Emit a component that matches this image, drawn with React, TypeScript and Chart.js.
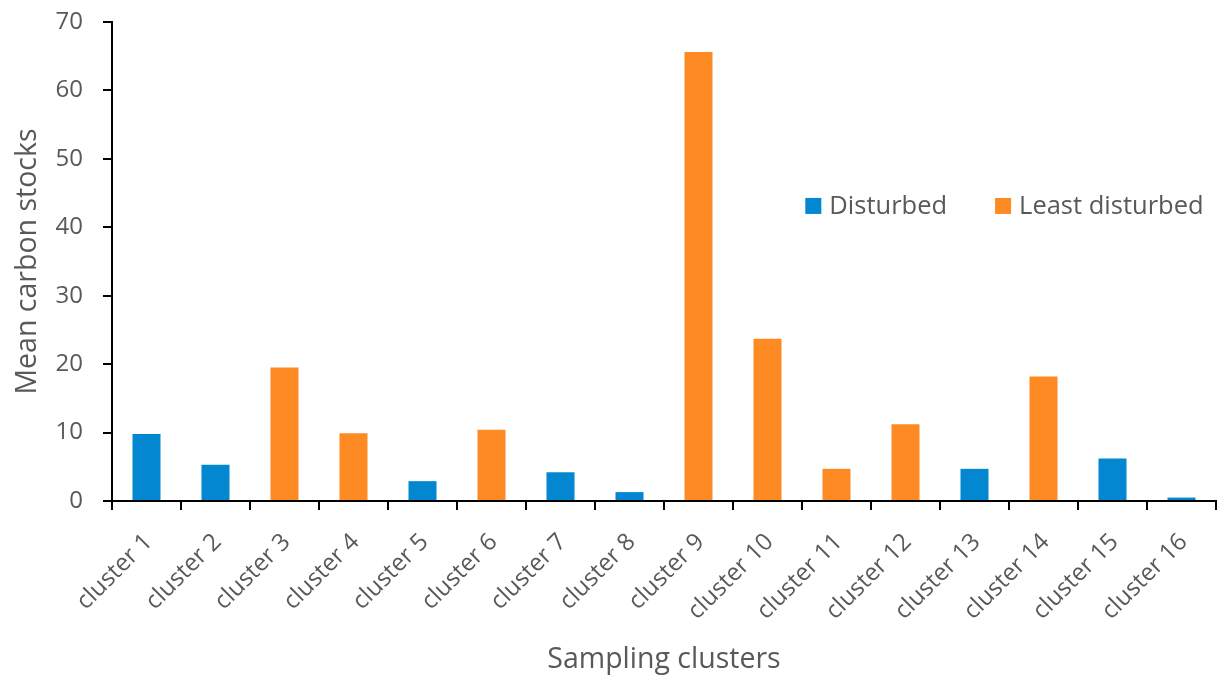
import React, { useEffect, useRef } from "react";
import { Chart, registerables } from "chart.js";

Chart.register(...registerables);

const categories = [
  "cluster 1", "cluster 2", "cluster 3", "cluster 4", "cluster 5", "cluster 6",
  "cluster 7", "cluster 8", "cluster 9", "cluster 10", "cluster 11", "cluster 12",
  "cluster 13", "cluster 14", "cluster 15", "cluster 16",
];
const disturbed = [9.8, 5.3, null, null, 2.9, null, 4.2, 1.3, null, null, null, null, 4.7, null, 6.2, 0.5];
const leastDisturbed = [null, null, 19.5, 9.9, null, 10.4, null, null, 65.6, 23.7, 4.7, 11.2, null, 18.2, null, null];
const seriesNames = ["Disturbed", "Least disturbed"];
const seriesColors = ["#0287D0", "#FE8A24"];
const yTitle = "Mean carbon stocks";
const xTitle = "Sampling clusters";
const yMin = 0;
const yMax = 70;
const yStep = 10;

const FONT = "'Open Sans', sans-serif";
const TEXT = "#595959";

const insideLegend = {
  id: "insideLegend",
  afterDraw(chart: any) {
    const ctx = chart.ctx;
    const area = chart.chartArea;
    const x0 = area.left + (area.right - area.left) * 0.628;
    const yc = area.top + (area.bottom - area.top) * 0.384;
    const box = 16;
    ctx.save();
    ctx.font = `25.5px ${FONT}`;
    ctx.textBaseline = "middle";
    ctx.textAlign = "left";
    let x = x0;
    chart.data.datasets.forEach((ds: any) => {
      ctx.fillStyle = ds.backgroundColor;
      ctx.fillRect(x, yc - box / 2, box, box);
      ctx.fillStyle = TEXT;
      ctx.fillText(ds.label, x + box + 8, yc + 1);
      x += box + 8 + ctx.measureText(ds.label).width + 48;
    });
    ctx.restore();
  },
};

export default function App() {
  const ref = useRef<HTMLCanvasElement | null>(null);
  useEffect(() => {
    document.body.style.margin = "0";
    const canvas = ref.current!;
    const chart = new Chart(canvas, {
      type: "bar",
      data: {
        labels: categories,
        datasets: [
          { label: seriesNames[0], data: disturbed, backgroundColor: seriesColors[0] },
          { label: seriesNames[1], data: leastDisturbed, backgroundColor: seriesColors[1] },
        ],
      },
      options: {
        responsive: false,
        animation: false,
        devicePixelRatio: 1,
        layout: { autoPadding: false, padding: { left: 0, right: 13, top: 22, bottom: 0 } },
        categoryPercentage: 1,
        barPercentage: 0.406,
        plugins: { legend: { display: false }, tooltip: { enabled: false } },
        scales: {
          x: {
            stacked: true,
            grid: { display: true, drawOnChartArea: false, drawTicks: true, tickLength: 9, color: "#000", lineWidth: 2, offset: true },
            border: { display: true, color: "#000", width: 2 },
            ticks: {
              autoSkip: false, maxRotation: 45, minRotation: 45, padding: 18, labelOffset: 2,
              color: TEXT, font: { family: FONT, size: 24 },
            },
            title: {
              display: true, text: xTitle, color: TEXT,
              font: { family: FONT, size: 28.5 }, padding: { top: 0, bottom: 3 },
            },
            afterFit: (s: any) => {
              s.height = 179;
              s.paddingLeft = 0;
              s.paddingRight = 0;
            },
          },
          y: {
            stacked: true,
            min: yMin, max: yMax,
            grid: { display: true, drawOnChartArea: false, drawTicks: true, tickLength: 9, color: "#000", lineWidth: 2 },
            border: { display: true, color: "#000", width: 2 },
            ticks: { stepSize: yStep, padding: 20, color: TEXT, font: { family: FONT, size: 24 } },
            title: {
              display: true, text: yTitle, color: TEXT,
              font: { family: FONT, size: 28.5 }, padding: { top: 11, bottom: 0 },
            },
            afterFit: (s: any) => {
              s.width = 112;
              s.paddingTop = 0;
              s.paddingBottom = 0;
            },
          },
        },
      },
      plugins: [insideLegend],
    });
    return () => chart.destroy();
  }, []);
  return <canvas ref={ref} width={1229} height={680} style={{ display: "block" }} />;
}
